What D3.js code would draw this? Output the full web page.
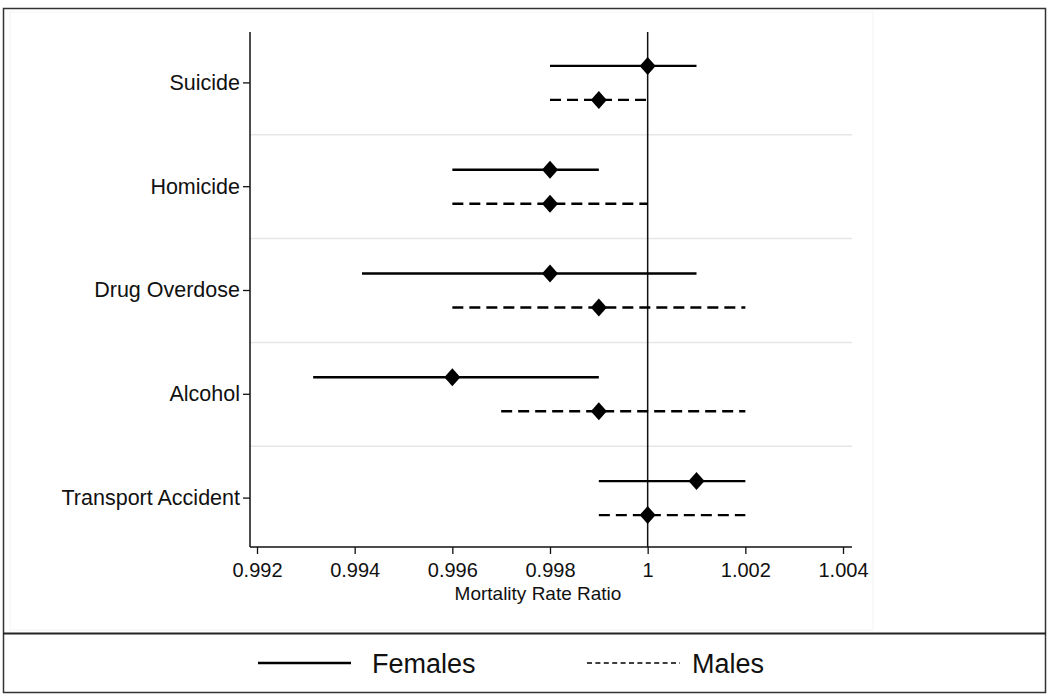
<!DOCTYPE html>
<html><head><meta charset="utf-8">
<script src="https://cdn.jsdelivr.net/npm/d3@7"></script>
<style>body{margin:0;background:#fff;} text{font-family:"Liberation Sans",Arial,sans-serif;fill:#111;}</style>
</head><body>
<svg id="c" width="1050" height="700"></svg>
<script>
const categories = ["Suicide","Homicide","Drug Overdose","Alcohol","Transport Accident"];
const femaleEst = [1.000, 0.998, 0.998, 0.996, 1.001];
const femaleLo  = [0.998, 0.996, 0.99415, 0.99315, 0.999];
const femaleHi  = [1.001, 0.999, 1.001, 0.999, 1.002];
const maleEst   = [0.999, 0.998, 0.999, 0.999, 1.000];
const maleLo    = [0.998, 0.996, 0.996, 0.997, 0.999];
const maleHi    = [1.000, 1.000, 1.002, 1.002, 1.002];
const xTicks = [0.992,0.994,0.996,0.998,1,1.002,1.004];
const xTickLabels = ["0.992","0.994","0.996","0.998","1","1.002","1.004"];
const seriesNames = ["Females","Males"];

const svg = d3.select("#c");
svg.append("rect").attr("x",3.5).attr("y",8.5).attr("width",1042).attr("height",684).attr("fill","#fff").attr("stroke","#333").attr("stroke-width",1.5);
svg.append("rect").attr("x",10).attr("y",12).attr("width",863).attr("height",618).attr("fill","none").attr("stroke","#f3f3f3").attr("stroke-width",1);
svg.append("line").attr("x1",3).attr("x2",1046).attr("y1",633.5).attr("y2",633.5).attr("stroke","#222").attr("stroke-width",2);

const x = d3.scaleLinear().domain([0.992,1.004]).range([257,843]);
const y = d3.scaleBand().domain(categories).range([31,550]);
const xAxisY = 547, plotLeft = 250, plotRight = 852, plotTop = 32;

const seps = categories.slice(1).map(c => y(c));
svg.selectAll("line.sep").data(seps).enter().append("line")
  .attr("x1",plotLeft).attr("x2",plotRight).attr("y1",d=>d).attr("y2",d=>d)
  .attr("stroke","#e6e6e6").attr("stroke-width",1.5);

svg.append("line").attr("x1",x(1)).attr("x2",x(1)).attr("y1",plotTop).attr("y2",xAxisY).attr("stroke","#111").attr("stroke-width",1.5);

const gx = svg.append("g").attr("transform",`translate(0,${xAxisY})`)
  .call(d3.axisBottom(x).tickValues(xTicks).tickFormat((d,i)=>xTickLabels[i]).tickSize(7).tickSizeOuter(0));
gx.select(".domain").attr("d",`M${plotLeft},0H${plotRight}`).attr("stroke","#111").attr("stroke-width",1.5);
gx.selectAll(".tick line").attr("stroke","#111").attr("stroke-width",1.3);
gx.selectAll(".tick text").attr("font-size",20).attr("y",12).attr("dy","0.9em").attr("font-family","Liberation Sans, Arial, sans-serif");

const gy = svg.append("g").attr("transform",`translate(${plotLeft},0)`)
  .call(d3.axisLeft(y).tickSize(7).tickSizeOuter(0));
gy.select(".domain").attr("d",`M0,${plotTop}V${xAxisY}`).attr("stroke","#111").attr("stroke-width",1.5);
gy.selectAll(".tick line").attr("stroke","#111").attr("stroke-width",1.3);
gy.selectAll(".tick text").attr("font-size",21.5).attr("x",-10).attr("font-family","Liberation Sans, Arial, sans-serif");

svg.append("text").attr("x",x(0.998)-12).attr("y",600).attr("text-anchor","middle").attr("font-size",19).text("Mortality Rate Ratio");

const off = 17;
const rows = [];
categories.forEach((c,i)=>{
  rows.push({c, s:0, est:femaleEst[i], lo:femaleLo[i], hi:femaleHi[i]});
  rows.push({c, s:1, est:maleEst[i], lo:maleLo[i], hi:maleHi[i]});
});
const ry = d => y(d.c) + y.bandwidth()/2 + (d.s===0 ? -off : off);

svg.selectAll("line.ci").data(rows).enter().append("line")
  .attr("x1",d=>x(d.lo)).attr("x2",d=>x(d.hi)).attr("y1",ry).attr("y2",ry)
  .attr("stroke","#000").attr("stroke-width",2.4)
  .attr("stroke-dasharray",d=>d.s===1?"11,6":null);

svg.selectAll("path.pt").data(rows).enter().append("path")
  .attr("d",d=>{const cx=x(d.est), cy=ry(d); return `M${cx},${cy-9}L${cx+8},${cy}L${cx},${cy+9}L${cx-8},${cy}Z`;})
  .attr("fill","#000");

const lg = svg.append("g");
seriesNames.forEach((n,i)=>{
  const x0 = i===0 ? 258 : 587;
  lg.append("line").attr("x1",x0).attr("x2",x0+93).attr("y1",663).attr("y2",663)
    .attr("stroke","#000").attr("stroke-width",i===0?2.6:1.6).attr("stroke-dasharray",i===1?"5,3.4":null);
  lg.append("text").attr("x",i===0?372:692).attr("y",673).attr("font-size",27).text(n);
});
</script>
</body></html>
